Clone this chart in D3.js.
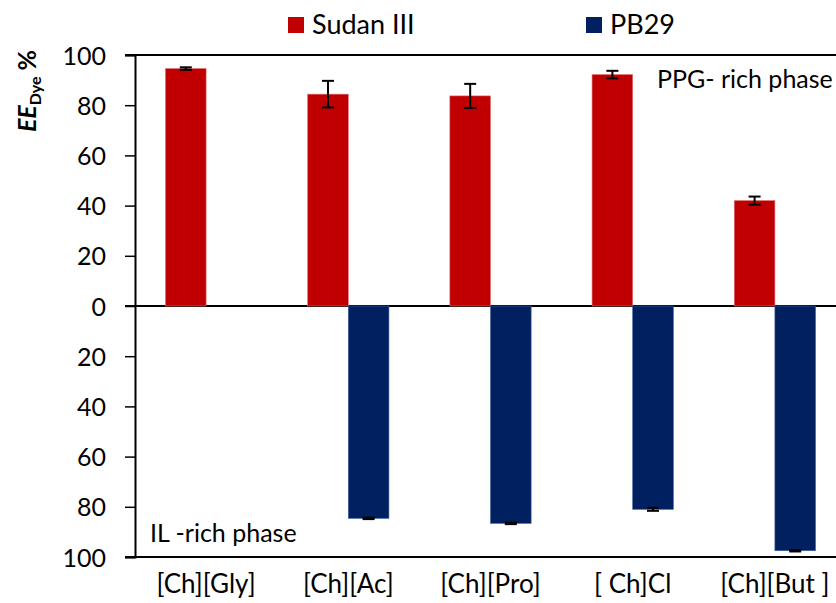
<!DOCTYPE html>
<html><head><meta charset="utf-8">
<script src="https://cdn.jsdelivr.net/npm/d3@7/dist/d3.min.js"></script>
<style>body{margin:0;background:#fff}svg{display:block}text{font-family:Lato,"Open Sans",sans-serif}</style>
</head><body><svg id="c" width="836" height="603"></svg>
<script>
const categories = ["[Ch][Gly]","[Ch][Ac]","[Ch][Pro]","[ Ch]Cl","[Ch][But ]"];
const seriesNames = ["Sudan III","PB29"];
const sudanIII = [94.6, 84.4, 83.7, 92.2, 42.0];
const sudanErr = [0.5, 5.3, 4.8, 1.5, 1.6];
const pb29 = [null, -84.6, -86.6, -81.0, -97.5];
const pb29Err = [0, 0.3, 0.3, 0.6, 0.3];
const yTicks = [100,80,60,40,20,0,-20,-40,-60,-80,-100];
const colors = ["#C00000","#002060"];

const svg = d3.select("#c");
const x0 = d3.scaleBand().domain(categories).range([135, 846]).paddingInner(0).paddingOuter(0);
const x1 = d3.scaleBand().domain(seriesNames).range([0, x0.bandwidth()]).paddingInner(0).paddingOuter(0.75);
const y = d3.scaleLinear().domain([-100, 100]).range([557, 55]);

[100, 0, -100].forEach(v => {
  svg.append("line").attr("x1", 125).attr("x2", 836).attr("y1", y(v)).attr("y2", y(v))
    .attr("stroke", "#000").attr("stroke-width", 2);
});

const yAxis = d3.axisLeft(y).tickValues(yTicks).tickSize(10).tickFormat(d => Math.abs(d));
const ga = svg.append("g").attr("transform", "translate(135,0)").call(yAxis);
ga.select(".domain").attr("stroke", "#000").attr("stroke-width", 2);
ga.selectAll(".tick line").attr("stroke", "#000").attr("stroke-width", 1.5);
ga.selectAll(".tick text").attr("x", -29).attr("dy", "0.36em").attr("font-size", 25).attr("fill", "#000");

const data = [sudanIII, pb29];
const errs = [sudanErr, pb29Err];
data.forEach((vals, si) => {
  categories.forEach((c, i) => {
    const v = vals[i];
    if (v === null) return;
    const bx = x0(c) + x1(seriesNames[si]);
    const bw = x1.bandwidth();
    svg.append("rect").attr("x", bx).attr("width", bw)
      .attr("y", Math.min(y(v), y(0))).attr("height", Math.abs(y(v) - y(0)))
      .attr("fill", colors[si]).attr("stroke", si === 0 ? "#e07070" : "#4060a0").attr("stroke-width", 0.6);
    const e = errs[si][i];
    if (e > 0) {
      const cx = bx + bw / 2;
      const g = svg.append("g").attr("stroke", "#000").attr("stroke-width", 2);
      g.append("line").attr("x1", cx).attr("x2", cx).attr("y1", y(v + e)).attr("y2", y(v - e));
      g.append("line").attr("x1", cx - 6).attr("x2", cx + 6).attr("y1", y(v + e)).attr("y2", y(v + e));
      g.append("line").attr("x1", cx - 6).attr("x2", cx + 6).attr("y1", y(v - e)).attr("y2", y(v - e));
    }
  });
});

categories.forEach(c => {
  svg.append("text").attr("x", x0(c) + x0.bandwidth() / 2).attr("y", 593)
    .attr("text-anchor", "middle").attr("font-size", 26).text(c);
});

svg.append("text").attr("x", 657).attr("y", 88).attr("font-size", 25).text("PPG- rich phase");
svg.append("text").attr("x", 150).attr("y", 542).attr("font-size", 25).text("IL -rich phase");

const legX = [288, 586];
seriesNames.forEach((s, i) => {
  svg.append("rect").attr("x", legX[i]).attr("y", 17).attr("width", 16).attr("height", 16).attr("fill", colors[i]);
  svg.append("text").attr("x", legX[i] + 24).attr("y", 34).attr("font-size", 27).text(s);
});

const t = svg.append("text").attr("transform", "translate(36,91) rotate(-90)")
  .attr("text-anchor", "middle").attr("font-weight", "bold").attr("font-size", 25);
t.append("tspan").attr("font-style", "italic").text("EE");
t.append("tspan").attr("font-size", 16).attr("dy", 5).text("Dye");
t.append("tspan").attr("dy", -5).text(" %");
</script></body></html>
